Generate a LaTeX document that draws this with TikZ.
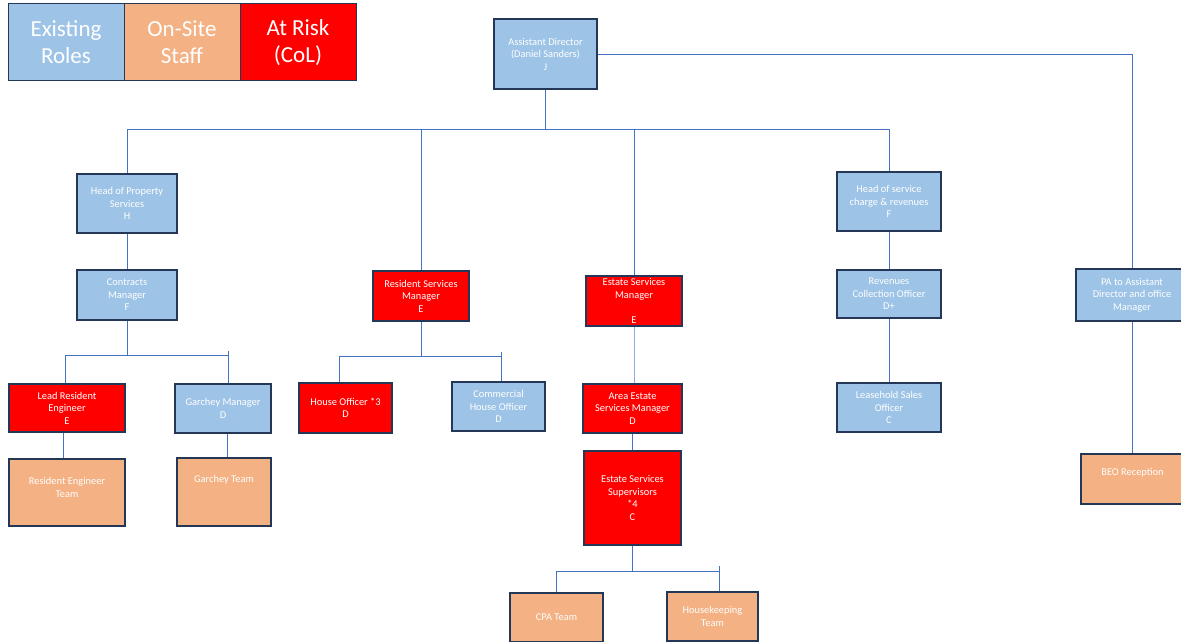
\documentclass[tikz,border=0pt]{standalone}
\usepackage{fontspec}
\setmainfont{Carlito}
\definecolor{exist}{HTML}{9DC3E6}
\definecolor{onsite}{HTML}{F4B183}
\definecolor{atrisk}{HTML}{FF0000}
\definecolor{bord}{HTML}{243757}
\definecolor{conncol}{HTML}{4472C4}
\tikzset{
  box/.style={draw=bord, line width=1.5pt, text=white, align=center,
    font=\fontsize{10.4}{12.5}\selectfont, inner sep=0pt},
  legbox/.style={draw=bord, line width=1pt, text=white, align=center,
    font=\fontsize{23}{27}\selectfont, inner sep=0pt},
  lbl/.style={text=white, align=center, font=\fontsize{10.4}{12.5}\selectfont, inner sep=0pt},
  conn/.style={draw=conncol, line width=0.9pt}
}
\newcommand\bx[7]{\node[box,fill=#6,minimum width={(#4-#2)*1pt},minimum height={(#5-#3)*1pt}] (#1) at ({(#2+#4)/2},{(#3+#5)/2}) {#7};}
\newcommand\legbx[7]{\node[legbox,fill=#6,minimum width={(#4-#2)*1pt},minimum height={(#5-#3)*1pt}] (#1) at ({(#2+#4)/2},{(#3+#5)/2}) {#7};}
\begin{document}
\begin{tikzpicture}[x=1pt,y=-1pt]
\useasboundingbox[fill=white] (0,0) rectangle (1181,642);
% legend
\legbx{l1}{8}{4}{124}{81}{exist}{Existing\\Roles}
\legbx{l2}{124}{4}{240}{81}{onsite}{On-Site\\Staff}
\legbx{l3}{240}{4}{356}{81}{atrisk}{At Risk\\(CoL)}
% nodes
\bx{ad}{494}{19}{597}{89}{exist}{Assistant Director\\(Daniel Sanders)\\J}
\bx{hps}{77}{174}{177}{233}{exist}{Head of Property\\Services\\H}
\bx{cm}{77}{270}{177}{320}{exist}{Contracts\\Manager\\F}
\bx{lre}{9}{384}{125}{432}{atrisk}{Lead Resident\\Engineer\\E}
\bx{ret}{9}{459}{125}{526}{onsite}{}
\node[lbl] (tret) at (67,487.5) {Resident Engineer\\Team};
\bx{gm}{175}{384}{271}{433}{exist}{Garchey Manager\\D}
\bx{gt}{177}{458}{271}{526}{onsite}{}
\node[lbl] (tgt) at (224,480) {Garchey Team};
\bx{rsm}{373}{271}{469}{321}{atrisk}{Resident Services\\Manager\\E}
\bx{ho}{299}{383}{392}{433}{atrisk}{House Officer *3\\D}
\bx{cho}{452}{382}{545}{431}{exist}{Commercial\\House Officer\\D}
\bx{esm}{586}{276}{682}{326}{atrisk}{Estate Services\\Manager\\[12.5pt]E}
\bx{aesm}{583}{384}{682}{433}{atrisk}{Area Estate\\Services Manager\\D}
\bx{ess}{584}{451}{681}{545}{atrisk}{Estate Services\\Supervisors\\*4\\C}
\bx{cpa}{510}{593}{603}{642}{onsite}{CPA Team}
\bx{hk}{667}{592}{758}{641}{onsite}{Housekeeping\\Team}
\bx{hsc}{837}{172}{941}{231}{exist}{Head of service\\charge \& revenues\\F}
\bx{rco}{837}{270}{941}{318}{exist}{Revenues\\Collection Officer\\D+}
\bx{lso}{837}{383}{941}{432}{exist}{Leasehold Sales\\Officer\\C}
\bx{pa}{1076}{269}{1188}{321}{exist}{PA to Assistant\\Director and office\\Manager}
\bx{beo}{1081}{454}{1184}{504}{onsite}{}
\node[lbl] (tbeo) at (1132.5,473) {BEO Reception};
% connectors
\coordinate (bus) at (545.5,129);
\draw[conn] (ad.south) -- (bus);
\draw[conn] (hps.north) |- (bus);
\draw[conn] (rsm.north) |- (bus);
\draw[conn] (esm.north) |- (bus);
\draw[conn] (hsc.north) |- (bus);
\draw[conn] (ad.east) -| (pa.north);
\draw[conn] (hps) -- (cm);
\coordinate (cbus) at (127,355);
\draw[conn] (cm.south) -- (cbus);
\draw[conn] ([xshift=-2]lre.north) |- (cbus);
\draw[conn] ([xshift=5]gm.north) |- (cbus);
\draw[conn] ([xshift=5]gm.north) -- ++(0,-32);
\draw[conn] ([xshift=-4]lre.south) -- ([xshift=-4]ret.north);
\draw[conn] ([xshift=4]gm.south) -- ([xshift=3]gt.north);
\coordinate (rbus) at (421,356);
\draw[conn] (rsm.south) -- (rbus);
\draw[conn] ([xshift=-6.5]ho.north) |- (rbus);
\draw[conn] ([xshift=2.5]cho.north) |- (rbus);
\draw[conn] ([xshift=2.5]cho.north) -- ++(0,-29);
\draw[conn, draw=conncol!60] (esm.south) -- (esm.south |- aesm.north);
\draw[conn] (aesm) -- (aesm |- ess.north);
\coordinate (ebus) at (632.5,571);
\draw[conn] (ess.south) -- (ebus);
\draw[conn] (cpa.north) |- (ebus);
\draw[conn] ([xshift=6.5]hk.north) |- (ebus);
\draw[conn] ([xshift=6.5]hk.north) -- ++(0,-25);
\draw[conn] (hsc) -- (rco);
\draw[conn] (rco) -- (lso);
\draw[conn] (pa.south) -- (pa.south |- beo.north);
\end{tikzpicture}
\end{document}
